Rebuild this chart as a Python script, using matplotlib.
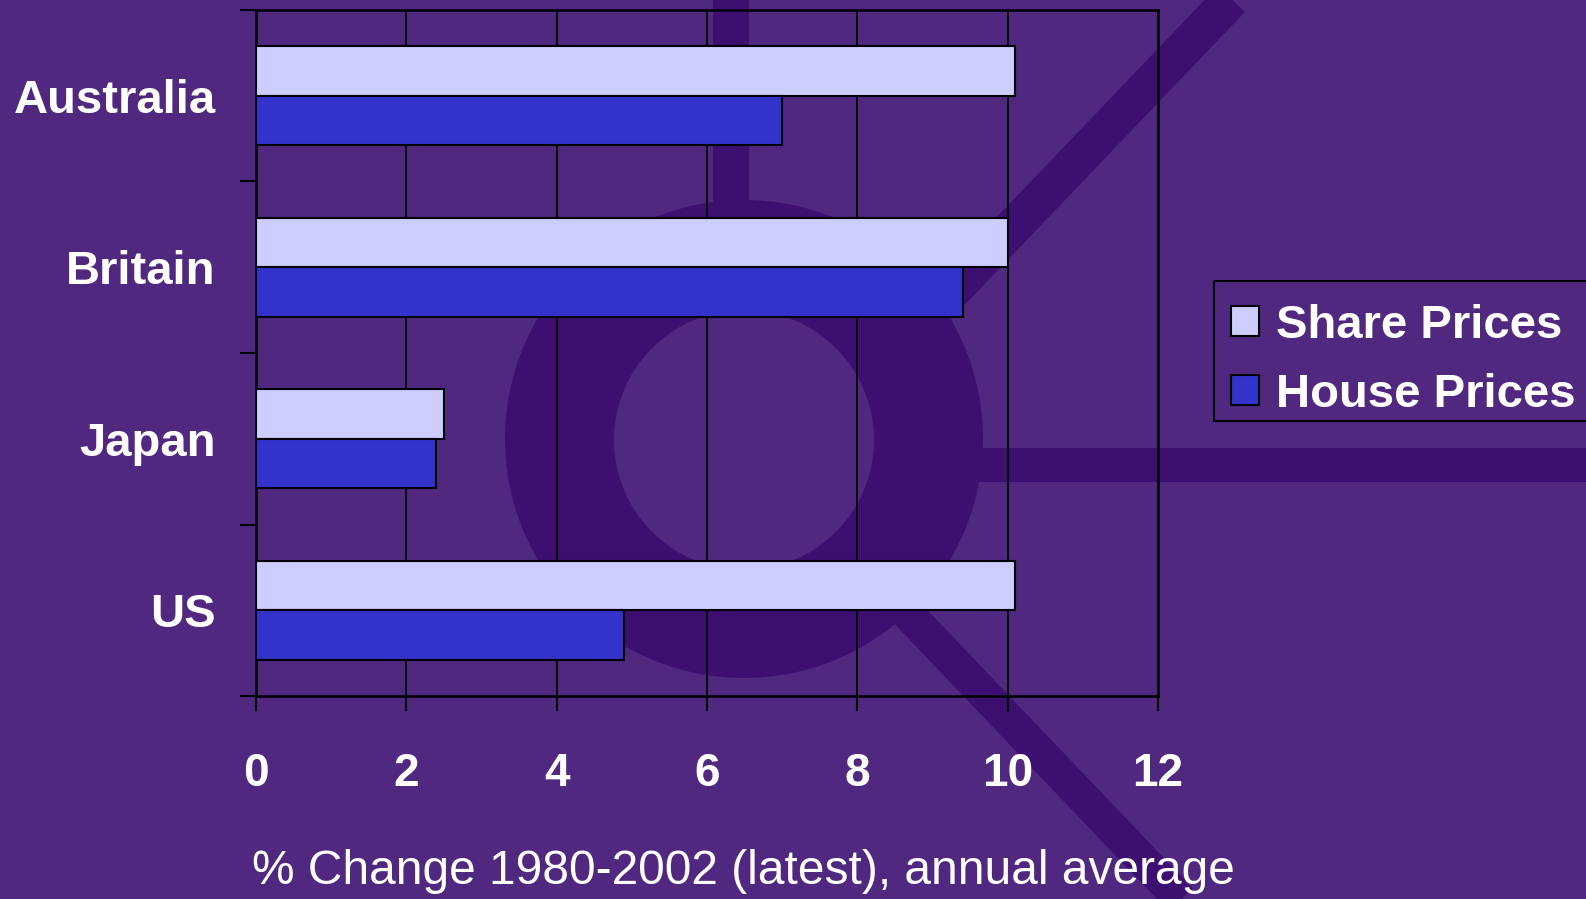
import numpy as np
import matplotlib.pyplot as plt
from matplotlib.patches import Circle, Rectangle, Patch

countries = ['Australia', 'Britain', 'Japan', 'US']
share_prices = [10.1, 10.0, 2.5, 10.1]
house_prices = [7.0, 9.4, 2.4, 4.9]
x_ticks = [0, 2, 4, 6, 8, 10, 12]
series_names = ['Share Prices', 'House Prices']

bg = '#502880'
dark = '#3D0F71'
share_col = '#CCCCFF'
house_col = '#3333CC'

plt.rcParams['font.family'] = ['Liberation Sans', 'DejaVu Sans']

fig = plt.figure(figsize=(15.86, 8.99), dpi=100, facecolor=bg)

# background decoration, drawn in pixel coordinates
deco = fig.add_axes([0, 0, 1, 1])
deco.set_xlim(0, 1586)
deco.set_ylim(899, 0)
deco.axis('off')
deco.add_patch(Rectangle((713, -5), 36, 230, color=dark, lw=0))
deco.add_patch(Rectangle((900, 448), 700, 34, color=dark, lw=0))
deco.plot([1240, 910], [-10, 335], color=dark, lw=27, solid_capstyle='butt')
deco.plot([890, 1200], [595, 920], color=dark, lw=24, solid_capstyle='butt')
deco.add_patch(Circle((744, 439), 239, color=dark, lw=0))
deco.add_patch(Circle((744, 440), 130, color=bg, lw=0))
# legend frame (runs off the right edge like the original)
deco.add_patch(Rectangle((1214, 281), 400, 140, fill=False, edgecolor='black', lw=1.5))
deco.set_zorder(0)

ax = fig.add_axes([256 / 1586, 1 - 696 / 899, (1158 - 256) / 1586, (696 - 10) / 899])
ax.set_zorder(1)
ax.set_facecolor('none')

y = np.arange(len(countries))
h = 0.29
ax.barh(y - h / 2, share_prices, height=h, color=share_col, edgecolor='black', lw=1.5, zorder=3)
ax.barh(y + h / 2, house_prices, height=h, color=house_col, edgecolor='black', lw=1.5, zorder=3)

ax.set_xlim(0, 12)
ax.set_ylim(3.5, -0.5)
ax.set_xticks(x_ticks)
ax.set_xticklabels([str(t) for t in x_ticks])
ax.set_yticks(np.arange(-0.5, 4, 1.0))
ax.set_yticklabels([])
ax.set_yticks(y, minor=True)
ax.set_yticklabels(countries, minor=True)

ax.tick_params(axis='x', direction='out', length=11, width=1.5, color='black',
               pad=29, labelsize=33, labelcolor='white')
ax.tick_params(axis='y', which='major', direction='out', length=11.5, width=1.5, color='black')
ax.tick_params(axis='y', which='minor', length=0, pad=29, labelsize=34, labelcolor='white')
for lab in ax.get_xticklabels() + ax.get_yticklabels(minor=True):
    lab.set_fontweight('bold')

ax.xaxis.grid(True, color='black', lw=1.4)
ax.set_axisbelow(True)
for s in ax.spines.values():
    s.set_color('black')
    s.set_linewidth(1.8)

fig.text(743 / 1586, 1 - 872 / 899, '% Change 1980-2002 (latest), annual average',
         ha='center', va='center', fontsize=34.5, color='white')

handles = [Patch(facecolor=share_col, edgecolor='black', lw=1.5),
           Patch(facecolor=house_col, edgecolor='black', lw=1.5)]
leg = fig.legend(handles, series_names, loc='upper left',
                 bbox_to_anchor=(1214 / 1586, 1 - 287 / 899), bbox_transform=fig.transFigure,
                 borderaxespad=0, frameon=False, prop={'size': 34, 'weight': 'bold'},
                 labelcolor='white', handlelength=0.6, handleheight=0.6,
                 handletextpad=0.36, borderpad=0.36, labelspacing=0.53)

fig.savefig('out.png', dpi=100, facecolor=bg)
